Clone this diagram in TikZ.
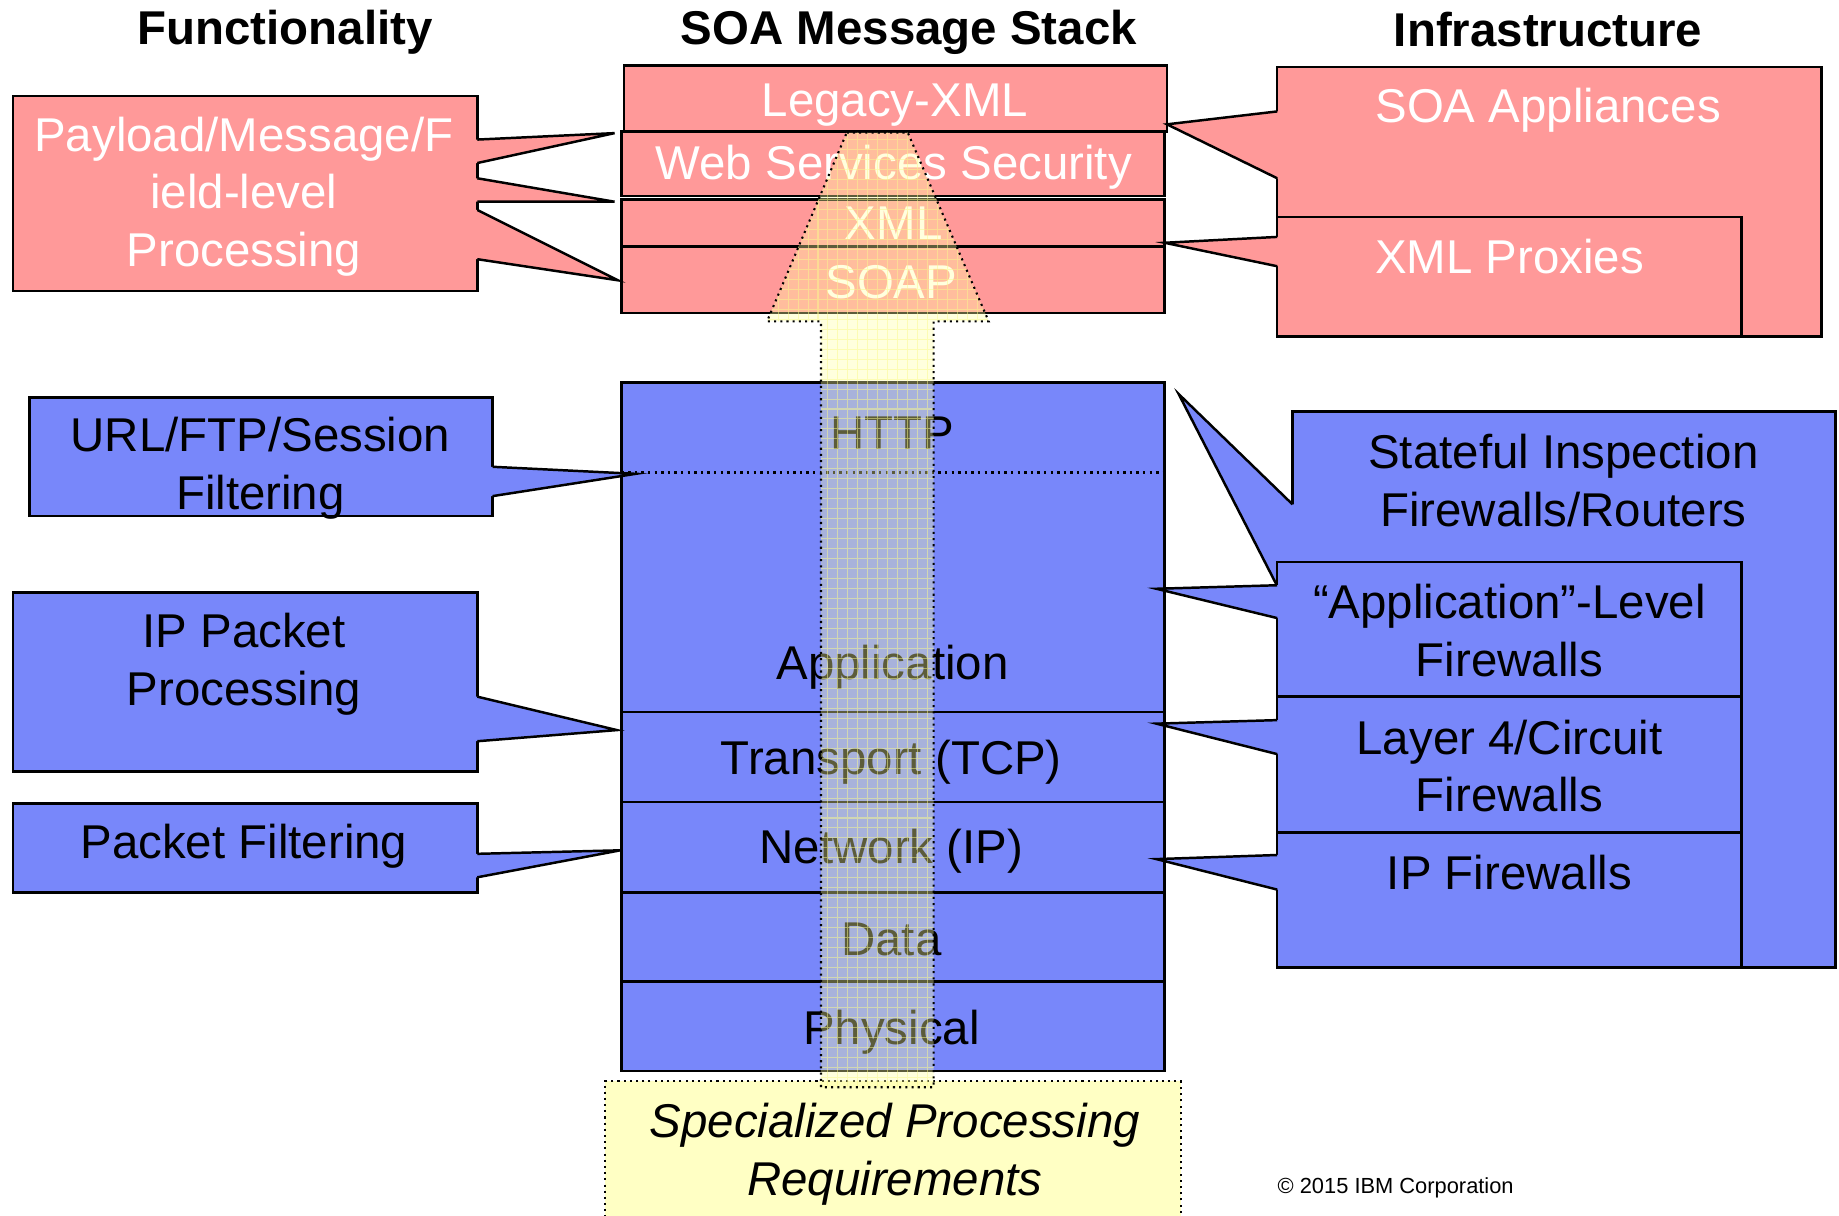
\documentclass[tikz,border=0pt]{standalone}
\usepackage{fontspec}
\setmainfont{Liberation Sans}
\usetikzlibrary{calc}
\definecolor{pinkf}{RGB}{255,153,153}
\definecolor{bluef}{RGB}{120,135,250}
\definecolor{yel}{RGB}{255,255,165}
\definecolor{yelgrid}{RGB}{250,250,140}
\definecolor{yelbox}{RGB}{255,255,196}
\newcommand\st{\rule[-0.14em]{0pt}{1em}}
\newcommand\bx[6]{\node[#6, minimum width={(#4-#2)*0.01cm}, minimum height={(#5-#3)*0.01cm}] (#1) at ({(#2+#4)/2},{(#3+#5)/2}) {};}
\newcommand\wdg[5]{%
  \fill[#1] ($#2+(#5,0)$) -- #2 -- #3 -- #4 -- ($#4+(#5,0)$) -- cycle;
  \draw[edge] #2 -- #3 -- #4;}
\newcommand\arrowpath{(722,113) -- (774,113) -- (843,274) -- (796,274) -- (796,927) -- (700,927) -- (700,274) -- (654,274) -- cycle}
\begin{document}
\begin{tikzpicture}[x=0.01cm,y=-0.01cm, font=\fontsize{11.5}{13.9}\selectfont,
  edge/.style={line width=0.6pt},
  pbox/.style={draw, line width=0.6pt, fill=pinkf, inner sep=0pt, outer sep=0pt},
  bbox/.style={draw, line width=0.6pt, fill=bluef, inner sep=0pt, outer sep=0pt},
  specbox/.style={draw, densely dotted, line width=0.5pt, fill=yelbox, inner sep=0pt, outer sep=0pt},
  txt/.style={inner sep=0pt, outer sep=0pt, align=center},
  wtxt/.style={txt, text=white},
  ttl/.style={txt, font=\fontsize{11.5}{13.9}\selectfont\bfseries},
  arrowfill/.style={fill=yel, fill opacity=0.36},
  arrowgrid/.style={draw=yelgrid, line width=0.25pt, draw opacity=0.5, step=0.085cm},
  arrowline/.style={draw, densely dotted, line width=0.5pt}]
\useasboundingbox[fill=white] (0,0) rectangle (1568,1036);

% titles
\node[ttl] (h1) at (243,25) {\st Functionality};
\node[ttl] (h2) at (775,25) {\st SOA Message Stack};
\node[ttl] (h3) at (1320,25) {\st Infrastructure};

% pink stack
\bx{legacy}{532}{56}{995}{112}{pbox}
\bx{wss}{530}{112}{993}{167}{pbox}
\bx{xml}{530}{170}{993}{210}{pbox}
\bx{soap}{530}{210}{993}{267}{pbox}

% blue stack
\bx{app}{530}{326}{993}{607}{bbox}
\bx{tcp}{530}{607}{993}{684}{bbox}
\bx{ip}{530}{684}{993}{761}{bbox}
\bx{data}{530}{761}{993}{837}{bbox}
\bx{phys}{530}{837}{993}{913}{bbox}
\draw[densely dotted, line width=0.6pt] (app.west |- 0,403) -- (app.east |- 0,403);

% specialized requirements box
\bx{spec}{516}{922}{1007}{1060}{specbox}

% left callouts
\bx{payload}{11}{82}{407}{248}{pbox}
\coordinate (t1) at (524,113.5);
\coordinate (t2) at (524,172);
\coordinate (t3) at (527,239);
\wdg{pinkf}{(payload.east |- 0,119)}{(t1)}{(payload.east |- 0,139)}{-3}
\wdg{pinkf}{(payload.east |- 0,152)}{(t2)}{(payload.east |- 0,172)}{-3}
\wdg{pinkf}{(payload.east |- 0,179)}{(t3)}{(payload.east |- 0,221)}{-3}

\bx{url}{25}{339}{420}{440}{bbox}
\coordinate (t4) at (542,404);
\wdg{bluef}{(url.east |- 0,398)}{(t4)}{(url.east |- 0,423)}{-3}

\bx{ippk}{11}{505}{407}{658}{bbox}
\coordinate (t5) at (526,622.5);
\wdg{bluef}{(ippk.east |- 0,594)}{(t5)}{(ippk.east |- 0,632)}{-3}

\bx{pkf}{11}{685}{407}{761}{bbox}
\coordinate (t6) at (529,725);
\wdg{bluef}{(pkf.east |- 0,728)}{(t6)}{(pkf.east |- 0,748)}{-3}

% right callouts (pink)
\bx{soaapp}{1089}{57}{1553}{287}{pbox}
\coordinate (t7) at (995,106);
\wdg{pinkf}{(soaapp.west |- 0,95)}{(t7)}{(soaapp.west |- 0,152)}{3}
\bx{xmlp}{1089}{185}{1485}{287}{pbox}
\coordinate (t8) at (993,207);
\wdg{pinkf}{(xmlp.west |- 0,202)}{(t8)}{(xmlp.west |- 0,227)}{3}

% right callouts (blue)
\bx{stateful}{1102}{351}{1565}{825}{bbox}
\coordinate (t9) at (1005,336);
\wdg{bluef}{(stateful.west |- 0,430)}{(t9)}{(stateful.west |- 0,525)}{3}
\bx{alf}{1089}{479}{1485}{594}{bbox}
\coordinate (t10) at (986,502);
\wdg{bluef}{(alf.west |- 0,499)}{(t10)}{(alf.west |- 0,527)}{3}
\bx{lfour}{1089}{594}{1485}{710}{bbox}
\coordinate (t11) at (986,617);
\wdg{bluef}{(lfour.west |- 0,614)}{(t11)}{(lfour.west |- 0,643)}{3}
\bx{ipf}{1089}{710}{1485}{825}{bbox}
\coordinate (t12) at (986,732.5);
\wdg{bluef}{(ipf.west |- 0,729)}{(t12)}{(ipf.west |- 0,758.5)}{3}

% texts
\node[wtxt] (tpayload) at (208,165) {\st Payload/Message/F\\\st ield-level\\\st Processing};
\node[wtxt] (tlegacy) at (763,86) {\st Legacy-XML};
\node[wtxt] (twss) at (762,140) {\st Web Services Security};
\node[wtxt] (txml) at (762,190) {\st XML};
\node[wtxt] (tsoap) at (760,240) {\st SOAP};
\node[wtxt] (tsoaapp) at (1320,91) {\st SOA Appliances};
\node[wtxt] (txmlp) at (1287,219) {\st XML Proxies};

\node[txt] (turl) at (222,396.5) {\st URL/FTP/Session\\\st Filtering};
\node[txt] (tippk) at (208,563.5) {\st IP Packet\\\st Processing};
\node[txt] (tpkf) at (208,719) {\st Packet Filtering};
\node[txt] (thttp) at (761,369) {\st HTTP};
\node[txt] (tapp) at (761,566) {\st Application};
\node[txt] (ttcp) at (760,647) {\st Transport (TCP)};
\node[txt] (tip) at (760,723) {\st Network (IP)};
\node[txt] (tdata) at (760,800) {\st Data};
\node[txt] (tphys) at (760,877) {\st Physical};
\node[txt] (tstate) at (1333,409.5) {\st Stateful Inspection\\\st Firewalls/Routers};
\node[txt] (talf) at (1287,537.5) {\st “Application”-Level\\\st Firewalls};
\node[txt] (tlfour) at (1287,653) {\st Layer 4/Circuit\\\st Firewalls};
\node[txt] (tipf) at (1287,744) {\st IP Firewalls};
\node[txt, font=\fontsize{11.5}{13.9}\selectfont\itshape] (tspec) at (763,981.5) {\st Specialized Processing\\\st Requirements};
\node[txt, font=\fontsize{5.3}{6.4}\selectfont] (tcopy) at (1190,1013) {© 2015 IBM Corporation};

% big translucent arrow
\begin{scope}
  \clip \arrowpath;
  \path[arrowfill] (640,100) rectangle (860,940);
  \path[arrowgrid] (640,100) grid (860,940);
\end{scope}
\path[arrowline] \arrowpath;
\end{tikzpicture}
\end{document}
